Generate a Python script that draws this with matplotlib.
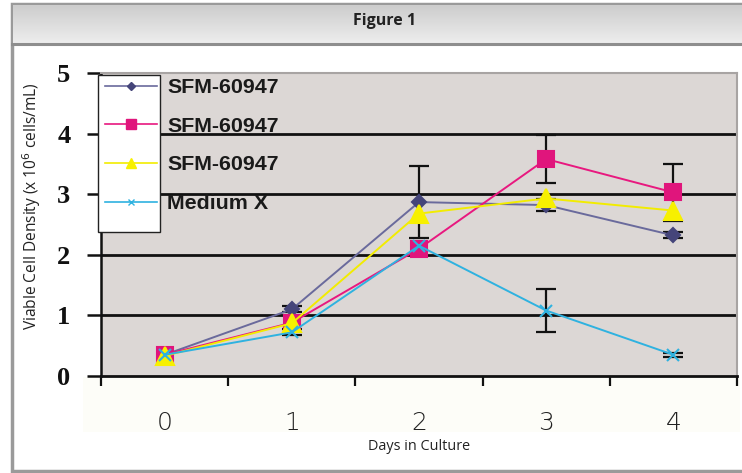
import matplotlib
matplotlib.use("Agg")
import matplotlib.pyplot as plt
import numpy as np
from matplotlib.lines import Line2D
from matplotlib.patches import Rectangle

days = [0, 1, 2, 3, 4]
day_labels = ["0", "1", "2", "3", "4"]
series_names = ["SFM-60947", "SFM-60947", "SFM-60947", "Medium X"]

sfm_a = [0.35, 1.10, 2.87, 2.82, 2.32]
sfm_a_err = [0.0, 0.05, 0.60, 0.10, 0.05]
sfm_b = [0.35, 0.88, 2.10, 3.58, 3.03]
sfm_b_err = [0.0, 0.0, 0.0, 0.40, 0.47]
sfm_c = [0.33, 0.87, 2.68, 2.93, 2.73]
sfm_c_err = [0.0, 0.0, 0.0, 0.0, 0.0]
medium_x = [0.35, 0.72, 2.15, 1.08, 0.35]
medium_x_err = [0.0, 0.05, 0.0, 0.35, 0.03]

W, H = 742, 473
fig = plt.figure(figsize=(W / 100, H / 100), dpi=100)
fig.patch.set_facecolor("white")

def fx(x): return x / W
def fy(y): return 1 - y / H

fig.patches.append(Rectangle((fx(12), fy(471)), fx(742) - fx(12) + 0.01, fy(4) - fy(471),
                             transform=fig.transFigure, facecolor="white",
                             edgecolor="#9a9a9a", linewidth=2.5, zorder=-5))
hax = fig.add_axes([fx(13), fy(44), fx(742) - fx(13), fy(5) - fy(44)])
grad = np.linspace(0, 1, 50).reshape(-1, 1)
hax.imshow(grad, aspect="auto", cmap=matplotlib.colors.LinearSegmentedColormap.from_list(
    "g", ["#cdcdcd", "#eeeeee"]), extent=[0, 1, 0, 1], origin="upper")
hax.set_axis_off()
fig.add_artist(Line2D([fx(12), 1], [fy(44.5), fy(44.5)], transform=fig.transFigure,
                      color="#8e8e8e", linewidth=2.2))
fig.text(fx(385), fy(21), "Figure 1", ha="center", va="center", fontsize=11.5,
         fontweight="bold", family="Open Sans", color="#222222")

fig.patches.append(Rectangle((fx(83), fy(432)), fx(740) - fx(83), fy(377) - fy(432),
                             transform=fig.transFigure, facecolor="#fdfdf8",
                             edgecolor="none", zorder=-4))

ax = fig.add_axes([fx(101), fy(376), fx(737) - fx(101), fy(73) - fy(376)])
ax.set_zorder(2)
ax.set_facecolor("#dcd7d5")
ax.set_xlim(-0.5, 4.5)
ax.set_ylim(0, 5)

for yv in [1, 2, 3, 4]:
    ax.axhline(yv, color="#111111", linewidth=2.0, zorder=1)

styles = [
    dict(color="#6a6a9c", mfc="#45457a", mec="#45457a", marker="D", ms=7.5),
    dict(color="#e8187f", mfc="#e0157c", mec="#e0157c", marker="s", ms=12),
    dict(color="#f2ec00", mfc="#f7f000", mec="#f7f000", marker="^", ms=12.5),
    dict(color="#2fb2e0", mfc="#2fb2e0", mec="#2fb2e0", marker="x", ms=8),
]
data = [(sfm_a, sfm_a_err), (sfm_b, sfm_b_err), (sfm_c, sfm_c_err), (medium_x, medium_x_err)]

for (vals, errs) in data:
    e = np.array(errs)
    mask = e > 0
    ax.errorbar(np.array(days)[mask], np.array(vals)[mask], yerr=e[mask], fmt="none",
                ecolor="#111111", elinewidth=1.6, capsize=7, capthick=1.6, zorder=2)

for i, (vals, errs) in enumerate(data):
    s = styles[i]
    ax.plot(days, vals, color=s["color"], linewidth=1.4, marker=s["marker"],
            markersize=s["ms"], markerfacecolor=s["mfc"], markeredgecolor=s["mec"],
            markeredgewidth=1.5, zorder=3 + i)

ax.add_patch(Rectangle((-0.005, (376 - 232) / 303), (160 - 101) / 636 + 0.005,
                       (232 - 75) / 303, transform=ax.transAxes, facecolor="white",
                       edgecolor="#222222", linewidth=1.0, zorder=8, clip_on=False))
handles = [Line2D([], [], color=s["color"], linewidth=1.2, marker=s["marker"],
                  markersize=s["ms"] * 0.6, markerfacecolor=s["mfc"],
                  markeredgecolor=s["mec"]) for s in styles]
leg = ax.legend(handles, series_names, loc="upper left",
                bbox_to_anchor=((105 - 101) / 636, (376 - 78) / 303),
                frameon=False, borderaxespad=0, borderpad=0,
                handlelength=2.43, handletextpad=0.47, labelspacing=0.92,
                prop=dict(family="Liberation Sans", weight="bold", size=15.4))
leg.set_zorder(9)
for t in leg.get_texts():
    t.set_color("#1a1a1a")

for sp in ["top", "right"]:
    ax.spines[sp].set_color("#a8a4a3")
    ax.spines[sp].set_linewidth(1.5)
ax.spines["left"].set_color("#111111")
ax.spines["left"].set_linewidth(1.8)
ax.spines["bottom"].set_color("#111111")
ax.spines["bottom"].set_linewidth(2.0)

ax.set_yticks([0, 1, 2, 3, 4, 5])
ax.set_yticklabels(["0", "1", "2", "3", "4", "5"], family="Liberation Serif",
                   fontweight="bold", fontsize=19)
ax.tick_params(axis="y", direction="out", length=10, width=1.8, pad=12, colors="#111111")

ax.set_xticks(days)
ax.set_xticklabels(day_labels, family="DejaVu Sans", fontweight="light", fontsize=18,
                   color="#222222")
ax.set_xticks(np.arange(-0.5, 5.0, 1.0), minor=True)
ax.tick_params(axis="x", which="major", length=0, pad=25)
ax.tick_params(axis="x", which="minor", direction="out", length=7, width=1.6, color="#111111")

ax.set_xlabel("Days in Culture", family="Open Sans", fontsize=10.4, color="#222222",
              labelpad=3)
fig.text(fx(32), fy(206), "Viable Cell Density (x 10$^{6}$ cells/mL)", rotation=90,
         ha="center", va="center", family="Open Sans", fontsize=11.2, color="#222222")

fig.savefig("out.png", dpi=100)
